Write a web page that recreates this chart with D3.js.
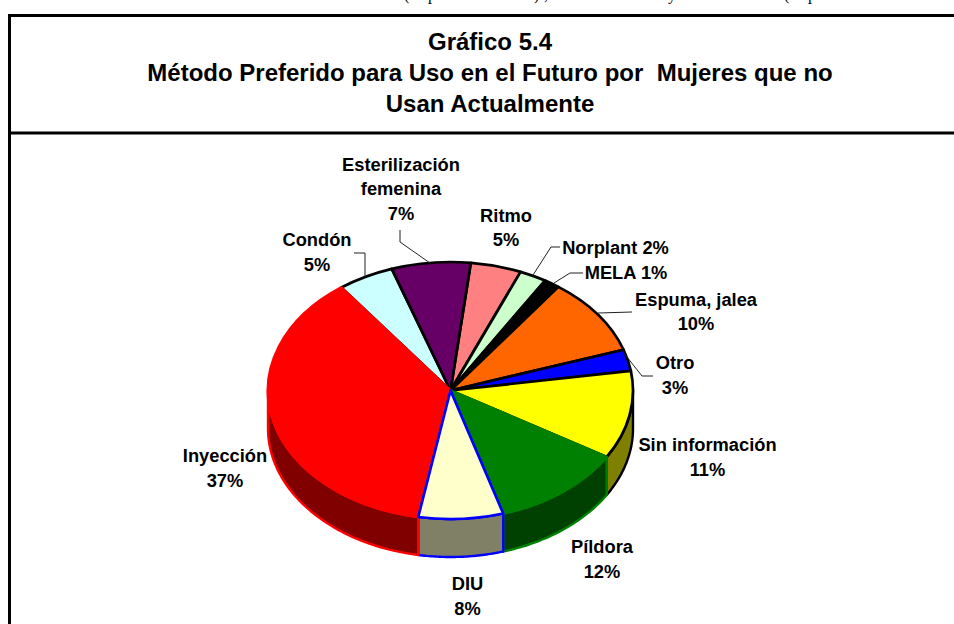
<!DOCTYPE html>
<html><head><meta charset="utf-8">
<style>html,body{margin:0;padding:0;background:#fff}svg{display:block}text{font-family:"Liberation Sans",Arial,sans-serif;font-weight:bold;fill:#000;white-space:pre}</style>
<script src="https://cdn.jsdelivr.net/npm/d3@7"></script></head><body>
<svg id="c" width="954" height="624"></svg>
<script>
// Data (clockwise from just right of 12 o'clock)
const categories = ["Ritmo","Norplant","MELA","Espuma, jalea","Otro","Sin información","Píldora","DIU","Inyección","Condón","Esterilización femenina"];
const shares     = [4.5,2.4,1.4,9.8,2.7,11.1,11.7,7.5,37.0,5.0,7.0];
const percentLabels = ["5%","2%","1%","10%","3%","11%","12%","8%","37%","5%","7%"];
const fills      = ["#ff8080","#ccffcc","#000000","#ff6600","#0000ff","#ffff00","#008000","#ffffcc","#ff0000","#ccffff","#660066"];
const walls      = ["#804040","#668066","#000000","#803300","#000080","#808000","#004000","#808066","#800000","#668080","#330033"];
const strokes    = ["#000","#000","#000","#000","#000","#000","#008000","#0000ff","#ff0000","#000","#000"];
const titleLines = ["Gráfico 5.4","Método Preferido para Uso en el Futuro por  Mujeres que no","Usan Actualmente"];
const clippedTextBits = [["(",404],["p",428],[")",534],[",",544],["y",668],["(",784],["p",808]];

const svg = d3.select("#c");
const cx=450.5, cy=390.5, rx=182.5, ry=128.5, depth=38;

// page fragment above the frame, cut by the top of the image
svg.selectAll("text.frag").data(clippedTextBits).join("text").attr("class","frag")
  .attr("x",d=>d[1]).attr("y",-0.5).text(d=>d[0])
  .style("font-family",'"Liberation Serif",serif').style("font-weight","normal").style("font-size","16px");

// frame
const frame = svg.append("g").attr("stroke","#000").attr("stroke-width",3).attr("fill","none");
frame.append("line").attr("x1",8).attr("x2",954).attr("y1",15.5).attr("y2",15.5);
frame.append("line").attr("x1",8).attr("x2",954).attr("y1",133).attr("y2",133);
frame.append("line").attr("x1",9.5).attr("x2",9.5).attr("y1",14).attr("y2",624);

// title
svg.append("g").selectAll("text").data(titleLines).join("text")
  .attr("x",490).attr("y",(d,i)=>50+i*31).attr("text-anchor","middle")
  .style("font-size","24px").text(d=>d);

// pie layout
const pie = d3.pie().value(d=>d).sort(null).startAngle(6.4*Math.PI/180).endAngle((360+6.4)*Math.PI/180);
const arcs = pie(shares);
const arcGen = d3.arc().innerRadius(0).outerRadius(rx);
const ky = ry/rx;
const px = a=>cx+rx*Math.sin(a), py = a=>cy-ry*Math.cos(a);

// walls: front half only
const wallG = svg.append("g");
arcs.forEach((d,i)=>{
  const a0=Math.max(d.startAngle,Math.PI/2), a1=Math.min(d.endAngle,3*Math.PI/2);
  if(a1<=a0) return;
  const n=40, ts=d3.range(n+1).map(k=>a0+(a1-a0)*k/n);
  const top=ts.map(a=>[px(a),py(a)]), bot=ts.slice().reverse().map(a=>[px(a),py(a)+depth]);
  wallG.append("path").attr("d",d3.line()(top.concat(bot))+"Z")
    .attr("fill",walls[i]).attr("stroke",strokes[i]).attr("stroke-width",2.4).attr("stroke-linejoin","round");
});

// top faces; red, green and blue outlines lie above their black neighbours
const paintOrder = [0,1,2,3,4,5,9,10,8,6,7];
const topG = svg.append("g").attr("transform",`translate(${cx},${cy}) scale(1,${ky})`);
topG.selectAll("path").data(paintOrder).join("path")
  .attr("d",i=>arcGen(arcs[i]))
  .attr("fill",i=>fills[i]).attr("stroke",i=>strokes[i]).attr("stroke-width",2.7)
  .attr("stroke-linejoin","round").attr("vector-effect","non-scaling-stroke");

// labels
const labelLayout = {
  "Ritmo":[[506,222],[506,246]],
  "Norplant":[[615.5,254]],
  "MELA":[[626,279]],
  "Espuma, jalea":[[696,306],[696,330]],
  "Otro":[[675,369],[675,394]],
  "Sin información":[[707.5,451],[707.5,476]],
  "Píldora":[[602,553],[602,578]],
  "DIU":[[467.5,590],[467.5,615]],
  "Inyección":[[225,462],[225,487]],
  "Condón":[[317,246],[317,271]],
  "Esterilización femenina":[[401,171],[401,195],[401,220]]
};
const labG = svg.append("g").attr("text-anchor","middle").style("font-size","18.3px");
categories.forEach((c,i)=>{
  const pos=labelLayout[c];
  const lines = pos.length===1 ? [c+" "+percentLabels[i]]
    : pos.length===3 ? ["Esterilización","femenina",percentLabels[i]] : [c,percentLabels[i]];
  lines.forEach((t,k)=>labG.append("text").attr("x",pos[k][0]).attr("y",pos[k][1]).text(t));
});

// leader lines
const leaders = [
  [[400,230],[400,242],[430,263]],
  [[354,253],[365,253],[365,277]],
  [[560,247],[551,247],[533,275]],
  [[583,273],[570,273],[554,283]],
  [[632,312],[598,313]],
  [[653,376],[642,376],[623,352]]
];
svg.append("g").attr("fill","none").attr("stroke","#222").attr("stroke-width",1)
  .selectAll("path").data(leaders).join("path").attr("d",d3.line());
</script></body></html>
